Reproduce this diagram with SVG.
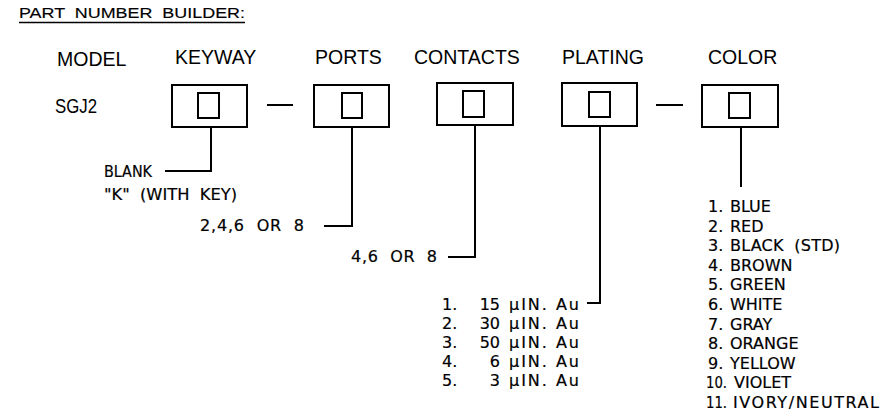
<svg xmlns="http://www.w3.org/2000/svg" width="884" height="417" viewBox="0 0 884 417">
<style>
.h{font-family:"Liberation Sans",Arial,sans-serif;font-size:19.5px;fill:#000}
.t{font-family:"DejaVu Sans","Liberation Sans",sans-serif;font-size:16px;fill:#000;stroke:#000;stroke-width:0.2;white-space:pre}
.box{fill:none;stroke:#000;stroke-width:2}
.ln{fill:none;stroke:#000;stroke-width:2}
</style>
<rect width="884" height="417" fill="#fff"/>
<g id="title">
<text x="19" y="18" font-family="Liberation Sans, Arial, sans-serif" font-size="14.5" stroke="#000" stroke-width="0.15" textLength="226" lengthAdjust="spacingAndGlyphs" style="white-space:pre" xml:space="preserve">PART  NUMBER  BUILDER:</text>
<line x1="19" y1="22.5" x2="245" y2="22.5" stroke="#000" stroke-width="1.3"/>
</g>
<g id="model">
<text class="h" x="57" y="66">MODEL</text>
<text class="h" x="55" y="113" font-size="21" textLength="42" lengthAdjust="spacingAndGlyphs">SGJ2</text>
</g>
<g id="keyway">
<text class="h" x="175" y="64">KEYWAY</text>
<rect class="box" x="172" y="85" width="75" height="42"/>
<rect class="box" x="198" y="93" width="21" height="25"/>
</g>
<g id="ports">
<text class="h" x="315" y="64">PORTS</text>
<rect class="box" x="314" y="85" width="75" height="42"/>
<rect class="box" x="342" y="93" width="20" height="25"/>
</g>
<g id="contacts">
<text class="h" x="414" y="64">CONTACTS</text>
<rect class="box" x="437" y="83" width="76" height="42"/>
<rect class="box" x="463" y="91" width="21" height="26"/>
</g>
<g id="plating">
<text class="h" x="562" y="64">PLATING</text>
<rect class="box" x="562" y="83" width="75" height="43"/>
<rect class="box" x="589" y="92" width="21" height="25"/>
</g>
<g id="color">
<text class="h" x="708" y="64">COLOR</text>
<rect class="box" x="702" y="85" width="76" height="42"/>
<rect class="box" x="729" y="93" width="21" height="25"/>
</g>
<g id="connectors">
<path class="ln" d="M267 105H293"/>
<path class="ln" d="M656 105H683"/>
<path class="ln" d="M211 127V171H165"/>
<path class="ln" d="M352 127V226H324"/>
<path class="ln" d="M475 125V257H448"/>
<path class="ln" d="M600 126V303H587"/>
<path class="ln" d="M741 127V187"/>
</g>
<g id="keyway-options">
<text class="t" x="104" y="177" textLength="48" lengthAdjust="spacingAndGlyphs">BLANK</text>
<text class="t" x="104" y="200" textLength="133" lengthAdjust="spacingAndGlyphs" xml:space="preserve">"K"  (WITH  KEY)</text>
</g>
<g id="ports-options">
<text class="t" x="200" y="231" textLength="104" lengthAdjust="spacing" xml:space="preserve">2,4,6  OR  8</text>
</g>
<g id="contacts-options">
<text class="t" x="351" y="262" textLength="86" lengthAdjust="spacing" xml:space="preserve">4,6  OR  8</text>
</g>
<g id="plating-options">
<text class="t" x="442" y="310">1.</text><text class="t" x="500" y="310" text-anchor="end">15</text><text class="t" x="509" y="310" textLength="70" lengthAdjust="spacing" xml:space="preserve">µIN. Au</text>
<text class="t" x="442" y="329">2.</text><text class="t" x="500" y="329" text-anchor="end">30</text><text class="t" x="509" y="329" textLength="70" lengthAdjust="spacing" xml:space="preserve">µIN. Au</text>
<text class="t" x="442" y="348">3.</text><text class="t" x="500" y="348" text-anchor="end">50</text><text class="t" x="509" y="348" textLength="70" lengthAdjust="spacing" xml:space="preserve">µIN. Au</text>
<text class="t" x="442" y="367">4.</text><text class="t" x="500" y="367" text-anchor="end">6</text><text class="t" x="509" y="367" textLength="70" lengthAdjust="spacing" xml:space="preserve">µIN. Au</text>
<text class="t" x="442" y="386">5.</text><text class="t" x="500" y="386" text-anchor="end">3</text><text class="t" x="509" y="386" textLength="70" lengthAdjust="spacing" xml:space="preserve">µIN. Au</text>
</g>
<g id="color-options">
<text class="t" x="708" y="212">1.</text><text class="t" x="730" y="212">BLUE</text>
<text class="t" x="708" y="231.6">2.</text><text class="t" x="730" y="231.6">RED</text>
<text class="t" x="708" y="251.2">3.</text><text class="t" x="730" y="251.2" textLength="110" lengthAdjust="spacing" xml:space="preserve">BLACK  (STD)</text>
<text class="t" x="708" y="270.8">4.</text><text class="t" x="730" y="270.8">BROWN</text>
<text class="t" x="708" y="290.4">5.</text><text class="t" x="730" y="290.4">GREEN</text>
<text class="t" x="708" y="310">6.</text><text class="t" x="730" y="310">WHITE</text>
<text class="t" x="708" y="329.6">7.</text><text class="t" x="730" y="329.6">GRAY</text>
<text class="t" x="708" y="349.2">8.</text><text class="t" x="730" y="349.2">ORANGE</text>
<text class="t" x="708" y="368.8">9.</text><text class="t" x="730" y="368.8">YELLOW</text>
<text class="t" x="706" y="388.4" textLength="21" lengthAdjust="spacingAndGlyphs">10.</text><text class="t" x="734" y="388.4">VIOLET</text>
<text class="t" x="706" y="408" textLength="21" lengthAdjust="spacingAndGlyphs">11.</text><text class="t" x="733" y="408" textLength="146" lengthAdjust="spacing">IVORY/NEUTRAL</text>
</g>
</svg>
